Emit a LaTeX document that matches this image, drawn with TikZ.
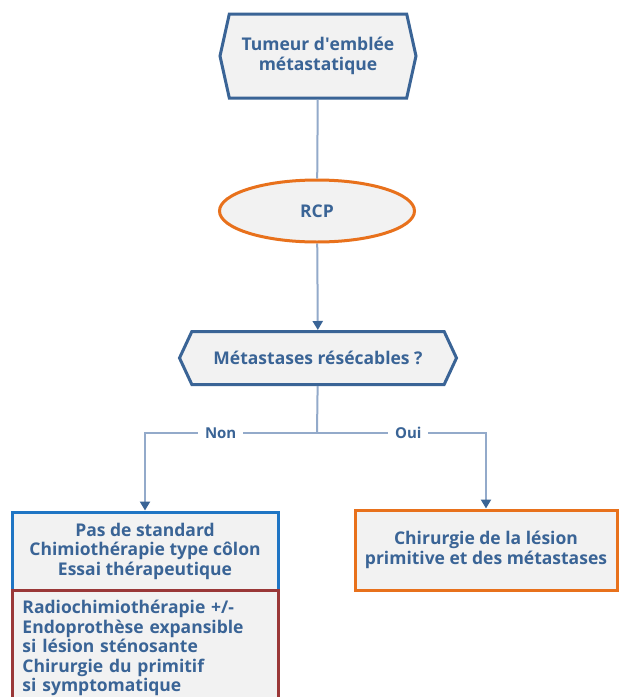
\documentclass[tikz,border=0pt]{standalone}
\usepackage{fontspec}
\setmainfont{Open Sans}
\usetikzlibrary{arrows.meta,shapes.geometric,shapes.symbols}
\definecolor{txtblue}{HTML}{3A6496}
\definecolor{lineblue}{HTML}{93AACA}
\definecolor{rcporange}{HTML}{E8711C}
\definecolor{boxblue}{HTML}{1F75C4}
\definecolor{boxred}{HTML}{9A3838}
\definecolor{boxfill}{HTML}{F2F2F2}

\tikzset{
  txt/.style={text=txtblue, font=\fontsize{17.5}{19.5}\selectfont\bfseries},
  hexa/.style={txt, signal, signal to=west and east, draw=txtblue,
    line width=3pt, fill=boxfill, align=center},
  rcpnode/.style={txt, ellipse, draw=rcporange, line width=3pt, fill=boxfill},
  bluebox/.style={txt, draw=boxblue, line width=3pt, fill=boxfill, align=center},
  redbox/.style={txt, draw=boxred, line width=3pt, fill=boxfill, align=left},
  orangebox/.style={txt, draw=rcporange, line width=3pt, fill=boxfill, align=center},
  conn/.style={draw=lineblue, line width=2pt},
  arr/.style={-{Triangle[length=9pt,width=10pt,color=txtblue]}},
  lbl/.style={fill=white, text=txtblue, font=\fontsize{15}{16}\selectfont\bfseries,
    inner xsep=7pt, inner ysep=2pt}
}

\begin{document}
\begin{tikzpicture}[x=1pt,y=-1pt]
  \clip (0,0) rectangle (619,697);
  \fill[white] (0,0) rectangle (619,697);

  % haut du schema
  \node[hexa, minimum width=196pt, minimum height=84pt, signal pointer angle=155]
    (tumeur) at (318,56) {Tumeur d\textquotesingle emblée\\métastatique};
  \node[rcpnode, minimum width=195pt, minimum height=62pt] (rcp) at (317,211) {RCP};
  \node[hexa, minimum width=277pt, minimum height=53pt, signal pointer angle=130]
    (resec) at (318,358) {Métastases résécables ?};

  % les trois cadres du bas
  \node[bluebox, minimum width=266pt, minimum height=78pt] (nonbox) at (145,551)
    {Pas de standard\\Chimiothérapie type côlon\\Essai thérapeutique};
  \node[redbox, minimum width=266pt, minimum height=115pt, text width=245pt]
    (radio) at (145,648)
    {Radiochimiothérapie +/-\\Endoprothèse expansible\\si lésion sténosante\\
     Chirurgie du primitif\\si symptomatique};
  \node[orangebox, minimum width=262pt, minimum height=80pt] (ouibox) at (486,550)
    {Chirurgie de la lésion\\primitive et des métastases};

  % liaisons
  \coordinate (fork) at (317,433);
  \draw[conn] (tumeur) -- (rcp);
  \draw[conn,arr] (rcp) -- (resec);
  \draw[conn] (resec) -- (fork);
  \draw[conn,arr] (fork) -| node[lbl,pos=0.28] {Non} (nonbox);
  \draw[conn,arr] (fork) -| node[lbl,pos=0.27] {Oui} (ouibox);
\end{tikzpicture}
\end{document}
